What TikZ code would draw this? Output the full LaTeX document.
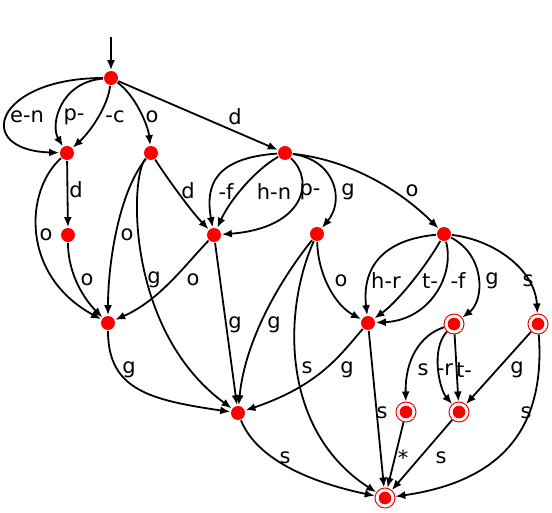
\documentclass[tikz,border=0pt]{standalone}
\usepackage{fontspec}
\setmainfont{DejaVu Sans}
\usetikzlibrary{arrows.meta}

\begin{document}
\begin{tikzpicture}[x=1pt,y=-1pt,line width=1.8pt,>={Latex[length=10pt,width=8pt]},
    st/.style={circle,fill=red,inner sep=0pt,minimum size=14pt},
    fin/.style={circle,draw=red,line width=1pt,inner sep=0pt,minimum size=20pt,
        path picture={\fill[red] (path picture bounding box.center) circle (6.3pt);}},
    lbl/.style={font=\fontsize{21}{25}\selectfont,inner sep=0pt}]
        \useasboundingbox (0,0) rectangle (552,513);
        % states
        \coordinate (s) at (111,37);
        \node[st] (q0) at (111,78) {};
        \node[st] (q1) at (67,153) {};
        \node[st] (q2) at (151,153) {};
        \node[st] (q3) at (285,153) {};
        \node[st] (q4) at (68,235) {};
        \node[st] (q5) at (214,235) {};
        \node[st] (q6) at (317,234) {};
        \node[st] (q7) at (444,234) {};
        \node[st] (q8) at (108,323) {};
        \node[st] (q9) at (368,323) {};
        \node[fin] (q10) at (454,324) {};
        \node[fin] (q11) at (538,324) {};
        \node[st] (q12) at (238,413) {};
        \node[fin] (q13) at (406,412) {};
        \node[fin] (q14) at (459,412) {};
        \node[fin] (q15) at (385,498) {};
        % transitions
        \draw[->] (s)--(q0);
        \draw[->] (q0) .. controls (-5,78) and (-28,150) .. (q1) node[lbl] (l1) at (27,117) {e-n};
        \draw[->] (q0) .. controls (60,82) and (50,125) .. (q1) node[lbl] (l2) at (74,117) {p-};
        \draw[->] (q0) .. controls (108,105) and (92,130) .. (q1) node[lbl] (l3) at (115,117) {-c};
        \draw[->] (q0) .. controls (135,95) and (148,125) .. (q2) node[lbl] (l4) at (152,117) {o};
        \draw[->] (q0)--(q3) node[lbl] (l5) at (235,117) {d};
        \draw[->] (q1)--(q4) node[lbl] (l6) at (76,190) {d};
        \draw[->] (q1) .. controls (25,190) and (20,275) .. (q8) node[lbl] (l7) at (46,235) {o};
        \draw[->] (q4) .. controls (68,275) and (85,300) .. (q8) node[lbl] (l8) at (87,280) {o};
        \draw[->] (q2) .. controls (120,190) and (108,260) .. (q8) node[lbl] (l9) at (127,235) {o};
        \draw[->] (q2) .. controls (130,175) and (125,330) .. (q12) node[lbl] (l10) at (154,280) {g};
        \draw[->] (q2) .. controls (165,175) and (190,210) .. (q5) node[lbl] (l11) at (188,191) {d};
        \draw[->] (q3) .. controls (215,158) and (205,185) .. (q5) node[lbl] (l12) at (226,192) {-f};
        \draw[->] (q3) .. controls (255,170) and (230,200) .. (q5) node[lbl] (l13) at (274,192) {h-n};
        \draw[->] (q3) .. controls (315,180) and (305,228) .. (q5) node[lbl] (l14) at (310,192) {p-};
        \draw[->] (q3) .. controls (335,160) and (345,200) .. (q6) node[lbl] (l15) at (348,192) {g};
        \draw[->] (q3) .. controls (350,160) and (400,190) .. (q7) node[lbl] (l16) at (412,191) {o};
        \draw[->] (q5) .. controls (185,265) and (160,300) .. (q8) node[lbl] (l17) at (193,280) {o};
        \draw[->] (q5)--(q12) node[lbl] (l18) at (235,325) {g};
        \draw[->] (q6) .. controls (280,280) and (245,340) .. (q12) node[lbl] (l19) at (274,325) {g};
        \draw[->] (q6) .. controls (283,310) and (280,430) .. (q15) node[lbl] (l20) at (307,368) {s};
        \draw[->] (q6) .. controls (318,275) and (335,305) .. (q9) node[lbl] (l21) at (341,281) {o};
        \draw[->] (q7) .. controls (380,240) and (362,270) .. (q9) node[lbl] (l22) at (386,281) {h-r};
        \draw[->] (q7) .. controls (430,260) and (400,300) .. (q9) node[lbl] (l23) at (430,281) {t-};
        \draw[->] (q7) .. controls (455,275) and (430,320) .. (q9) node[lbl] (l24) at (458,281) {-f};
        \draw[->] (q7) .. controls (485,255) and (485,300) .. (q10) node[lbl] (l25) at (492,281) {g};
        \draw[->] (q7) .. controls (495,240) and (535,270) .. (q11) node[lbl] (l26) at (528,281) {s};
        \draw[->] (q8) .. controls (108,390) and (150,400) .. (q12) node[lbl] (l27) at (129,370) {g};
        \draw[->] (q9) .. controls (340,355) and (320,385) .. (q12) node[lbl] (l28) at (347,370) {g};
        \draw[->] (q9)--(q15) node[lbl] (l29) at (382,413) {s};
        \draw[->] (q10) .. controls (420,335) and (405,360) .. (q13) node[lbl] (l30) at (423,370) {s};
        \draw[->] (q10) .. controls (430,350) and (440,390) .. (q14) node[lbl] (l31) at (445,370) {-r};
        \draw[->] (q10)--(q14) node[lbl] (l32) at (464,370) {t-};
        \draw[->] (q11)--(q14) node[lbl] (l33) at (517,370) {g};
        \draw[->] (q11) .. controls (545,420) and (510,480) .. (q15) node[lbl] (l34) at (526,413) {s};
        \draw[->] (q13)--(q15) node[lbl] (l35) at (403,458) {*};
        \draw[->] (q14)--(q15) node[lbl] (l36) at (441,458) {s};
        \draw[->] (q12) .. controls (255,455) and (300,480) .. (q15) node[lbl] (l37) at (285,458) {s};
    \end{tikzpicture}
\end{document}
